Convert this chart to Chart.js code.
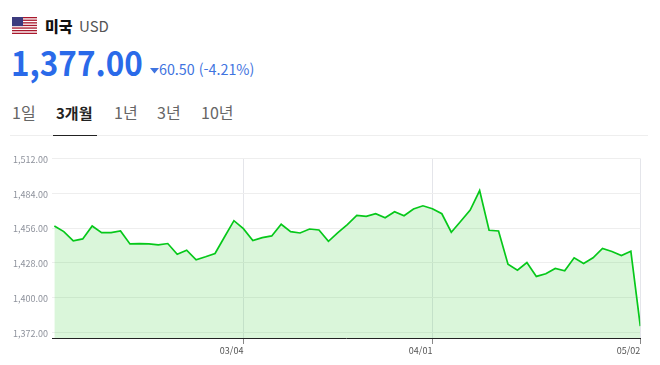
<!DOCTYPE html>
<html lang="ko"><head><meta charset="utf-8">
<script src="https://cdn.jsdelivr.net/npm/chart.js@4"></script>
<style>
html,body{margin:0;padding:0;background:#fff;width:660px;height:365px;overflow:hidden;font-family:"Noto Sans CJK KR","Noto Sans",sans-serif}
.t{position:absolute;white-space:nowrap;line-height:1}
canvas{position:absolute;left:0;top:0}
</style></head><body>
<svg class="t" style="left:12px;top:17px" width="25" height="17" viewBox="0 0 25 17">
<rect width="25" height="17" fill="#fff"/>
<g fill="#a8182c"><rect y="0" width="25" height="1.3"/><rect y="2.6" width="25" height="1.3"/><rect y="5.2" width="25" height="1.3"/><rect y="7.8" width="25" height="1.3"/><rect y="10.4" width="25" height="1.3"/><rect y="13" width="25" height="1.3"/><rect y="15.7" width="25" height="1.3"/></g>
<rect width="11" height="9.1" fill="#3c3b7e"/>
</svg>
<div class="t" style="left:45px;top:18px;font-size:15px;font-weight:900;color:#111">미국</div>
<div class="t" style="left:79px;top:18px;font-size:15px;color:#555">USD</div>
<div class="t" style="left:11px;top:45px;font-size:34px;font-weight:700;color:#2a6ae9;transform:scaleX(.925);transform-origin:0 0">1,377.00</div>
<svg class="t" style="left:150px;top:68px" width="9" height="6"><path d="M0 0H9L4.5 5.5Z" fill="#3f74e0"/></svg>
<div class="t" style="left:159px;top:62px;font-size:14.3px;color:#3f74e0">60.50 (-4.21%)</div>
<div class="t" style="left:12px;top:104px;font-size:16px;color:#666">1일</div>
<div class="t" style="left:56px;top:105px;font-size:15px;font-weight:700;color:#222">3개월</div>
<div class="t" style="left:114px;top:104px;font-size:16px;color:#666">1년</div>
<div class="t" style="left:157px;top:104px;font-size:16px;color:#666">3년</div>
<div class="t" style="left:201px;top:104px;font-size:16px;color:#666">10년</div>
<div class="t" style="left:10px;top:135px;width:638px;height:1px;background:#eee"></div>
<div class="t" style="left:53px;top:135px;width:44px;height:1px;background:#222"></div>
<canvas id="c" width="660" height="365"></canvas>
<script>
const values=[1457.6,1453.1,1445.6,1447.2,1457.6,1452.3,1452.3,1453.6,1443.2,1443.5,1443.2,1442.4,1443.5,1434.9,1438.1,1430.4,1432.8,1435.5,1448.8,1461.9,1455.5,1445.9,1448.3,1449.6,1459,1453.1,1452,1455.2,1454.4,1445.3,1452.3,1458.7,1466.2,1465.4,1467.5,1464.3,1469.1,1465.9,1471.3,1473.9,1471.5,1467.5,1452.6,1461.4,1470.5,1486.2,1454.2,1453.6,1426.9,1422.1,1428.2,1417,1419.2,1423.4,1421.6,1432,1427.4,1432,1439.5,1437.1,1433.9,1437.3,1377];
const yTicks=[1372,1400,1428,1456,1484,1512];
const xTickIndex=[20,40,62];
const xTickLabels=['03/04','04/01','05/02'];
const points=values.map((v,i)=>({x:i,y:v}));
const font={family:'"Noto Sans CJK KR","Noto Sans",sans-serif',size:9};
new Chart(document.getElementById('c'),{
 type:'line',
 data:{datasets:[{data:points,borderColor:'#06c81a',borderWidth:1.7,backgroundColor:'rgba(60,205,60,0.19)',fill:'start',pointRadius:0,tension:0}]},
 options:{responsive:false,animation:false,
  layout:{padding:{left:13,right:19.7,top:158.5,bottom:0}},
  plugins:{legend:{display:false},tooltip:{enabled:false}},
  scales:{
   x:{type:'linear',min:-0.25,max:62,
    afterBuildTicks:s=>{s.ticks=xTickIndex.map(v=>({value:v}));},
    afterFit:s=>{s.height=27;},
    grid:{color:'#e4e5ea',lineWidth:1,tickLength:6,tickColor:'#888'},
    border:{color:'#222',width:1},
    ticks:{autoSkip:false,maxRotation:0,minRotation:0,align:'end',padding:1,color:'#555',font,
     callback:v=>xTickLabels[xTickIndex.indexOf(v)]}
   },
   y:{type:'linear',min:1367.4,max:1512,
    afterBuildTicks:s=>{s.ticks=yTicks.map(v=>({value:v}));},
    afterFit:s=>{s.width=39;},
    grid:{color:'#eeeeee',lineWidth:1,tickLength:0},
    border:{display:false},
    ticks:{autoSkip:false,crossAlign:'far',padding:5,labelOffset:1,color:'#8e929c',font,
     callback:v=>v.toLocaleString('en-US',{minimumFractionDigits:2,maximumFractionDigits:2})}
   }
  }
 }
});
</script>
</body></html>
